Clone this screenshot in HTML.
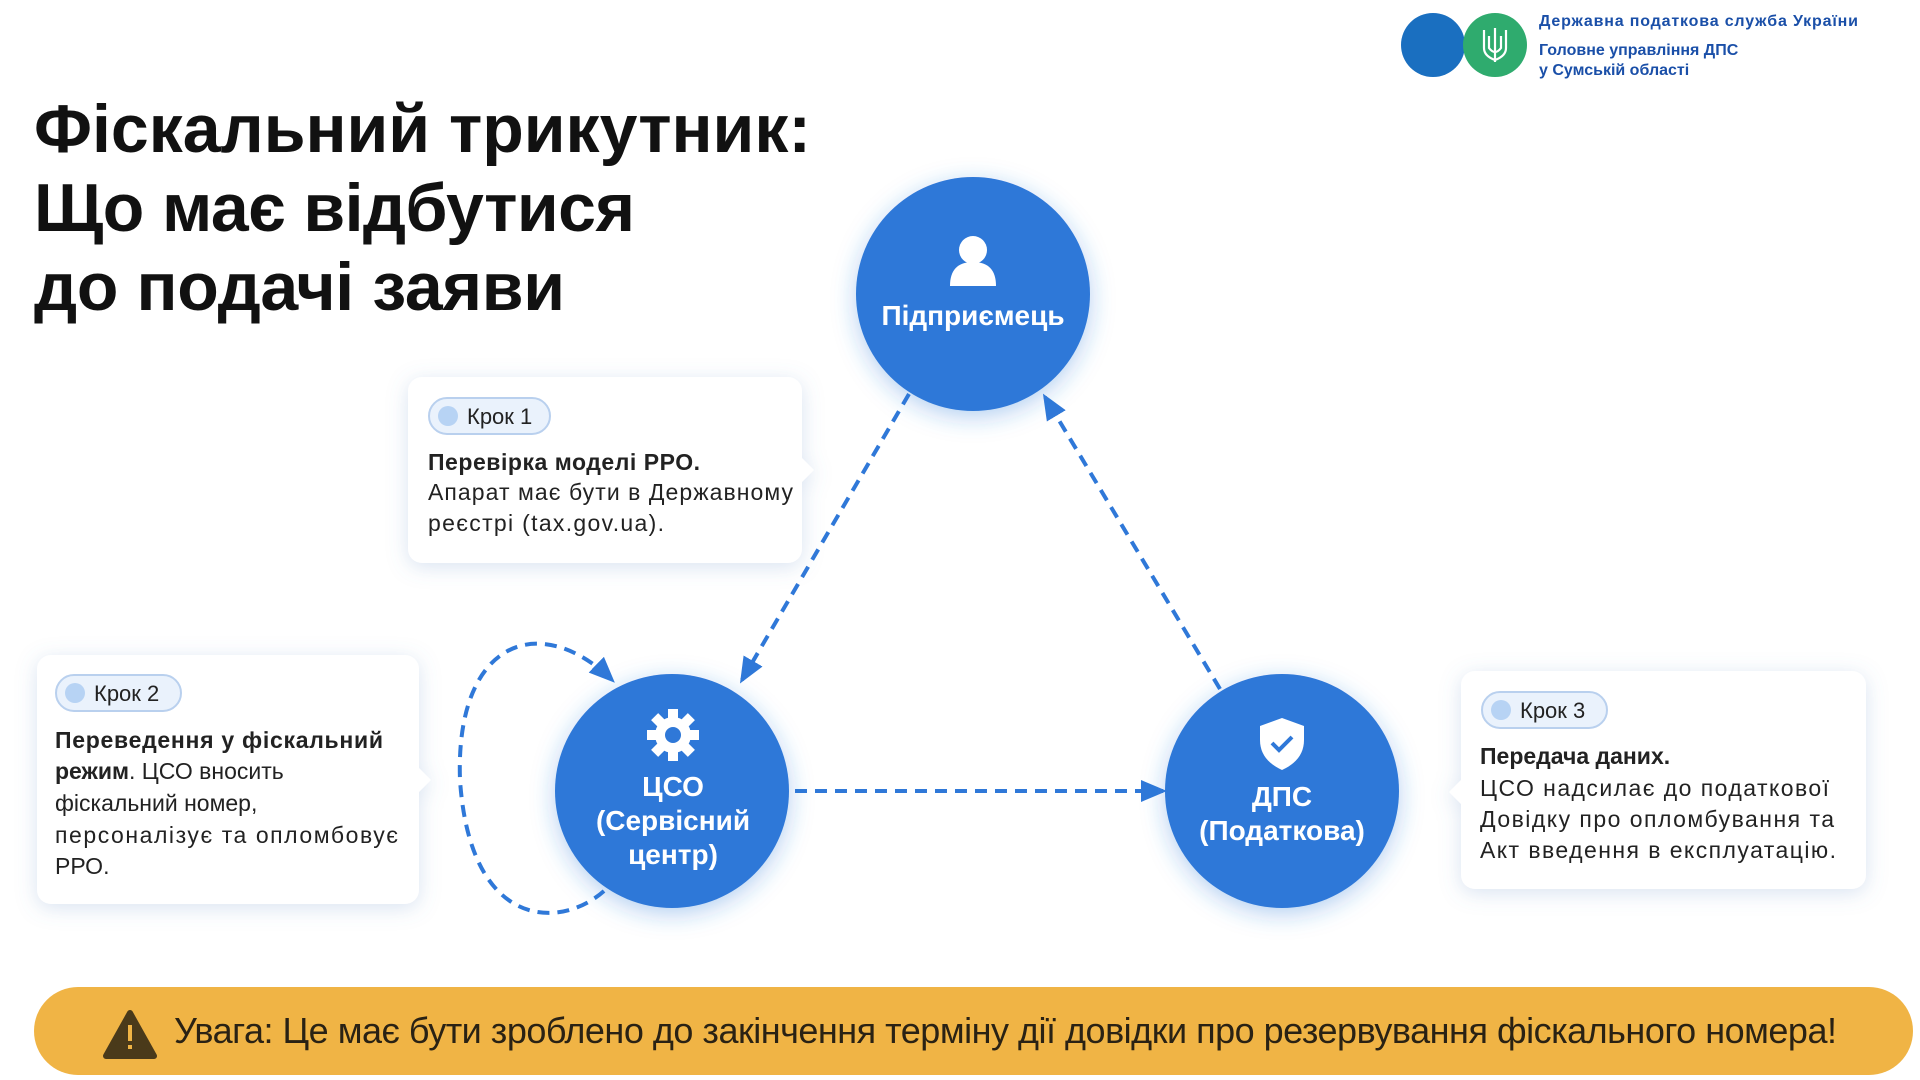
<!DOCTYPE html>
<html><head><meta charset="utf-8"><style>
html,body{margin:0;padding:0;background:#fff}
svg{display:block}
text{font-family:"Liberation Sans","Noto Sans CJK SC",sans-serif}
</style></head><body>
<svg width="1920" height="1080" viewBox="0 0 1920 1080" xmlns="http://www.w3.org/2000/svg">
<defs>
<filter id="sh" x="-20%" y="-20%" width="140%" height="140%"><feDropShadow dx="0" dy="4" stdDeviation="10" flood-color="#6a8fc8" flood-opacity="0.25"/></filter>
<filter id="csh" x="-30%" y="-30%" width="160%" height="160%"><feDropShadow dx="0" dy="6" stdDeviation="12" flood-color="#2f78d8" flood-opacity="0.35"/></filter>
<marker id="ar2" markerWidth="26" markerHeight="26" refX="22" refY="13" orient="auto" markerUnits="userSpaceOnUse"><path d="M0,2 L26,13 L0,24 z" fill="#2f78d8"/></marker>
</defs>

<!-- logo -->
<circle cx="1433" cy="45" r="32" fill="#1a6fc0"/>
<circle cx="1495" cy="45" r="32" fill="#2fab6e"/>
<g stroke="#fff" stroke-width="2.2" fill="none">
<line x1="1495" y1="28" x2="1495" y2="62"/>
<path d="M1484,30 v18 q0,8 11,12 q11,-4 11,-12 v-18"/>
<path d="M1489,36 v12 q3,4 6,4 q3,0 6,-4 v-12"/>
</g>
<text x="1539" y="26" font-size="16" font-weight="bold" fill="#1a4fa8" textLength="319">Державна податкова служба України</text>
<text x="1539" y="55" font-size="16" font-weight="bold" fill="#1a4fa8">Головне управління ДПС</text>
<text x="1539" y="75" font-size="16" font-weight="bold" fill="#1a4fa8">у Сумській області</text>

<!-- title -->
<g font-size="68" font-weight="bold" fill="#111">
<text x="34" y="152" textLength="777">Фіскальний трикутник:</text>
<text x="34" y="231" textLength="601">Що має відбутися</text>
<text x="34" y="310" textLength="531">до подачі заяви</text>
</g>

<!-- connectors -->
<g stroke="#2f78d8" stroke-width="4" stroke-dasharray="12 8" fill="none">
<line x1="909" y1="394" x2="742" y2="680" marker-end="url(#ar2)"/>
<line x1="1220" y1="689" x2="1045" y2="397" marker-end="url(#ar2)"/>
<line x1="795" y1="791" x2="1163" y2="791" marker-end="url(#ar2)"/>
<path d="M604,891 C560,930 470,930 460,780 C455,640 540,610 612,680" marker-end="url(#ar2)"/>
</g>

<!-- circles -->
<g filter="url(#csh)">
<circle cx="973" cy="294" r="117" fill="#2f78d8"/>
<circle cx="672" cy="791" r="117" fill="#2f78d8"/>
<circle cx="1282" cy="791" r="117" fill="#2f78d8"/>
</g>
<circle cx="973" cy="250" r="14" fill="#fff"/>
<path d="M950,286 q0,-24 23,-24 q23,0 23,24 z" fill="#fff"/>
<text x="973" y="325" font-size="28" font-weight="bold" fill="#fff" text-anchor="middle">Підприємець</text>
<g transform="translate(673,735)" fill="#fff">
<circle r="18"/>
<g><rect x="-5" y="-26" width="10" height="52"/><rect x="-26" y="-5" width="52" height="10"/><rect x="-5" y="-26" width="10" height="52" transform="rotate(45)"/><rect x="-5" y="-26" width="10" height="52" transform="rotate(-45)"/></g>
<circle r="8" fill="#2f78d8"/>
</g>
<g font-size="28" font-weight="bold" fill="#fff" text-anchor="middle">
<text x="673" y="796">ЦСО</text>
<text x="673" y="830">(Сервісний</text>
<text x="673" y="864">центр)</text>
<text x="1282" y="806">ДПС</text>
<text x="1282" y="840">(Податкова)</text>
</g>
<path d="M1282,718 l22,8 v14 q0,20 -22,30 q-22,-10 -22,-30 v-14 z" fill="#fff"/>
<path d="M1272,743 l7,7 l13,-13" stroke="#2f78d8" stroke-width="4" fill="none"/>

<!-- boxes -->
<g filter="url(#sh)" fill="#fff">
<rect x="408" y="377" width="394" height="186" rx="14"/>
<path d="M802,458 l12,12 l-12,12 z"/>
<rect x="37" y="655" width="382" height="249" rx="14"/>
<path d="M419,768 l12,12 l-12,12 z"/>
<rect x="1461" y="671" width="405" height="218" rx="14"/>
<path d="M1461,780 l-12,12 l12,12 z"/>
</g>
<g fill="#eaf2fc" stroke="#b9d0ee" stroke-width="2">
<rect x="429" y="398" width="121" height="36" rx="18"/>
<rect x="56" y="675" width="125" height="36" rx="18"/>
<rect x="1482" y="692" width="125" height="36" rx="18"/>
</g>
<g fill="#b7d3f4"><circle cx="448" cy="416" r="10"/><circle cx="75" cy="693" r="10"/><circle cx="1501" cy="710" r="10"/></g>
<g font-size="22" fill="#222">
<text x="467" y="424">Крок 1</text>
<text x="94" y="701">Крок 2</text>
<text x="1520" y="718">Крок 3</text>
</g>
<g font-size="23" fill="#222">
<text x="428" y="470" font-weight="bold" textLength="272">Перевірка моделі РРО.</text>
<text x="428" y="500" textLength="365">Апарат має бути в Державному</text>
<text x="428" y="531" textLength="236">реєстрі (tax.gov.ua).</text>

<text x="55" y="748" font-weight="bold" textLength="328">Переведення у фіскальний</text>
<text x="55" y="779"><tspan font-weight="bold">режим</tspan>. ЦСО вносить</text>
<text x="55" y="811">фіскальний номер,</text>
<text x="55" y="843" textLength="343">персоналізує та опломбовує</text>
<text x="55" y="874">РРО.</text>

<text x="1480" y="764" font-weight="bold">Передача даних.</text>
<text x="1480" y="796" textLength="349">ЦСО надсилає до податкової</text>
<text x="1480" y="827" textLength="354">Довідку про опломбування та</text>
<text x="1480" y="858" textLength="356">Акт введення в експлуатацію.</text>
</g>

<!-- banner -->
<rect x="34" y="987" width="1879" height="88" rx="44" fill="#f0b445"/>
<path d="M130,1013 l24,43 h-48 z" fill="#4a3a1a" stroke="#4a3a1a" stroke-width="6" stroke-linejoin="round"/>
<rect x="128" y="1025" width="4" height="16" fill="#f0b445"/><rect x="128" y="1045" width="4" height="4" fill="#f0b445"/>
<text x="174" y="1043" font-size="36" fill="#2a2214" textLength="1663">Увага: Це має бути зроблено до закінчення терміну дії довідки про резервування фіскального номера!</text>
</svg>
</body></html>
